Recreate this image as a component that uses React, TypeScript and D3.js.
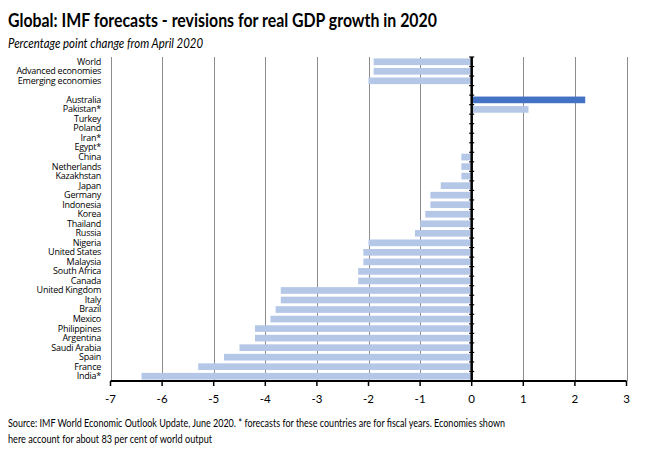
import React from "react";
import * as d3 from "d3";

const categories: string[] = [
  "World", "Advanced economies", "Emerging economies", "",
  "Australia", "Pakistan*", "Turkey", "Poland", "Iran*", "Egypt*",
  "China", "Netherlands", "Kazakhstan", "Japan", "Germany", "Indonesia",
  "Korea", "Thailand", "Russia", "Nigeria", "United States", "Malaysia",
  "South Africa", "Canada", "United Kingdom", "Italy", "Brazil", "Mexico",
  "Philippines", "Argentina", "Saudi Arabia", "Spain", "France", "India*",
];
const values: (number | null)[] = [
  -1.9, -1.9, -2.0, null,
  2.2, 1.1, 0, 0, 0, 0,
  -0.2, -0.2, -0.2, -0.6, -0.8, -0.8,
  -0.9, -1.0, -1.1, -2.0, -2.1, -2.1,
  -2.2, -2.2, -3.7, -3.7, -3.8, -3.9,
  -4.2, -4.2, -4.5, -4.8, -5.3, -6.4,
];
const highlighted: string[] = ["Australia"];
const xTicks: number[] = [-7, -6, -5, -4, -3, -2, -1, 0, 1, 2, 3];

const title = "Global: IMF forecasts - revisions for real GDP growth in 2020";
const subtitle = "Percentage point change from April 2020";
const source1 =
  "Source: IMF World Economic Outlook Update, June 2020. * forecasts for these countries are for fiscal years. Economies shown";
const source2 = "here account for about 83 per cent of world output";

export default function App() {
  const W = 650, H = 455;
  const left = 110.5, right = 626.5, top = 57, bottom = 381;
  const x = d3.scaleLinear().domain([-7, 3]).range([left, right]);
  const y = d3.scaleBand<string>()
    .domain(categories.map((c, i) => i + "|" + c))
    .range([top, bottom])
    .paddingInner(0.3)
    .paddingOuter(0.15);
  const step = y.step();
  const font = "Lato, 'Open Sans', sans-serif";
  const x0 = x(0);

  return (
    <svg width={W} height={H} style={{ position: "absolute", left: 0, top: 0, background: "#fff" }}
      fontFamily={font}>
      <rect x={0} y={0} width={W} height={H} fill="#fff" />
      <text x={8} y={27} fontSize={19} fontWeight="bold" fill="#000"
        textLength={429} lengthAdjust="spacingAndGlyphs">{title}</text>
      <text x={8} y={48} fontSize={13} fontStyle="italic" fill="#000"
        textLength={195} lengthAdjust="spacingAndGlyphs">{subtitle}</text>

      {/* gridlines */}
      {xTicks.filter(t => t !== 0).map(t => (
        <line key={"g" + t} x1={Math.round(x(t)) + 0.5} x2={Math.round(x(t)) + 0.5}
          y1={top} y2={bottom} stroke="#8c8c8c" strokeWidth={1} />
      ))}

      {/* bars */}
      {categories.map((c, i) => {
        const v = values[i];
        if (v === null || v === 0) return null;
        const yy = y(i + "|" + c)!;
        const x1 = x(Math.min(0, v)), x2 = x(Math.max(0, v));
        return (
          <rect key={"b" + i} x={x1} y={yy} width={x2 - x1} height={y.bandwidth()}
            fill={highlighted.includes(c) ? "#4472C4" : "#B4C7E7"} />
        );
      })}

      {/* category labels */}
      {categories.map((c, i) => (
        <text key={"l" + i} x={101} y={y(i + "|" + c)! + y.bandwidth() / 2}
          dy="0.33em" textAnchor="end" fontSize={9} fill="#000"
          fontFamily="'Open Sans', sans-serif" letterSpacing={-0.25}>{c}</text>
      ))}

      {/* zero axis */}
      <line x1={x0} x2={x0} y1={top} y2={bottom} stroke="#000" strokeWidth={2.5} />
      {categories.map((c, i) => {
        const yy = top + i * step;
        return <line key={"zt" + i} x1={x0 - 2.5} x2={x0 + 2.5} y1={yy} y2={yy} stroke="#000" strokeWidth={1.2} />;
      })}

      {/* bottom axis */}
      <line x1={left} x2={right} y1={bottom} y2={bottom} stroke="#000" strokeWidth={2} />
      {xTicks.map(t => (
        <line key={"t" + t} x1={x(t)} x2={x(t)} y1={bottom} y2={bottom + 5} stroke="#000" strokeWidth={1.5} />
      ))}
      {xTicks.map(t => (
        <text key={"tl" + t} x={x(t)} y={403} textAnchor="middle" fontSize={11.5} fill="#000">{t}</text>
      ))}

      <text x={8} y={427} fontSize={11.5} fill="#000" textLength={497} lengthAdjust="spacingAndGlyphs">{source1}</text>
      <text x={8} y={443} fontSize={11.5} fill="#000" textLength={204} lengthAdjust="spacingAndGlyphs">{source2}</text>
    </svg>
  );
}
